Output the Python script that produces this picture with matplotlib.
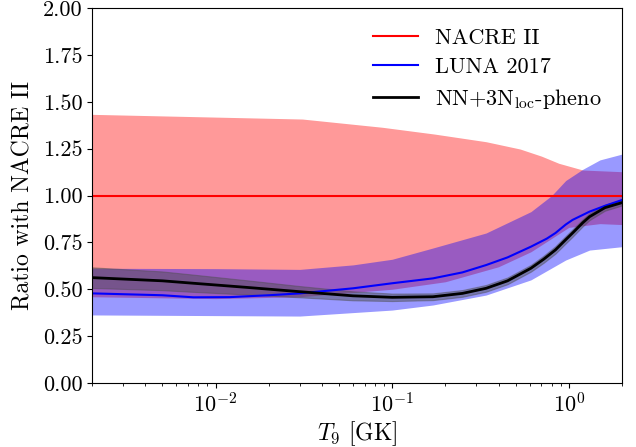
import numpy as np
import matplotlib
matplotlib.use("Agg")
import matplotlib.pyplot as plt
from matplotlib.ticker import FormatStrFormatter

plt.rcParams['font.family'] = 'serif'
plt.rcParams['font.serif'] = ['cmr10']
plt.rcParams['mathtext.fontset'] = 'cm'
plt.rcParams['axes.formatter.use_mathtext'] = True

# NACRE II band (ratio 1 by definition)
t_nacre_hi = [0.002, 0.031, 0.088, 0.173, 0.34, 0.53, 0.7, 0.877, 1.2, 2.0]
nacre_hi = [1.433, 1.408, 1.364, 1.328, 1.287, 1.248, 1.21, 1.172, 1.136, 1.127]
t_nacre_lo = [0.002, 0.01, 0.03, 0.1, 0.2, 0.4, 0.61, 1.0, 1.5, 2.0]
nacre_lo = [0.46, 0.45, 0.46, 0.50, 0.54, 0.62, 0.70, 0.83, 0.85, 0.845]

# LUNA 2017
t_luna = [0.002, 0.005, 0.0075, 0.012, 0.02, 0.03, 0.06, 0.1, 0.17, 0.25,
          0.34, 0.45, 0.61, 0.75, 0.84, 0.96, 1.05, 1.31, 1.6, 2.0]
luna = [0.478, 0.468, 0.457, 0.458, 0.468, 0.478, 0.505, 0.532, 0.558, 0.59,
        0.629, 0.67, 0.727, 0.77, 0.80, 0.845, 0.87, 0.914, 0.945, 0.976]
t_luna_hi = [0.002, 0.01, 0.03, 0.06, 0.1, 0.17, 0.34, 0.61, 0.8, 0.96, 1.2, 1.5, 2.0]
luna_hi = [0.612, 0.61, 0.606, 0.63, 0.66, 0.72, 0.80, 0.914, 1.00, 1.08, 1.14, 1.19, 1.221]
t_luna_lo = [0.002, 0.03, 0.1, 0.17, 0.34, 0.61, 0.96, 1.31, 2.0]
luna_lo = [0.363, 0.357, 0.389, 0.416, 0.469, 0.55, 0.656, 0.709, 0.727]

# NN+3N_loc-pheno
t_nn = [0.002, 0.005, 0.0075, 0.015, 0.03, 0.06, 0.1, 0.17, 0.25, 0.34,
        0.45, 0.61, 0.72, 0.84, 0.95, 1.05, 1.2, 1.31, 1.6, 2.0]
nn = [0.562, 0.545, 0.532, 0.51, 0.487, 0.465, 0.457, 0.46, 0.478, 0.505,
      0.545, 0.612, 0.66, 0.71, 0.76, 0.80, 0.855, 0.887, 0.935, 0.962]
nn_err = [0.055, 0.05, 0.046, 0.038, 0.03, 0.024, 0.02, 0.018, 0.018, 0.018,
          0.018, 0.018, 0.019, 0.02, 0.02, 0.02, 0.019, 0.018, 0.016, 0.015]

fig, ax = plt.subplots(figsize=(6.36, 4.47), dpi=100)
fig.subplots_adjust(left=0.1447, right=0.978, bottom=0.1432, top=0.982)

# red band: fill between upper and lower on a shared grid of their own points
t_red = sorted(set(t_nacre_hi) | set(t_nacre_lo))
ax.fill_between(t_red,
                np.interp(np.log(t_red), np.log(t_nacre_lo), nacre_lo),
                np.interp(np.log(t_red), np.log(t_nacre_hi), nacre_hi),
                color='red', alpha=0.4, lw=0)
t_blue = sorted(set(t_luna_hi) | set(t_luna_lo))
ax.fill_between(t_blue,
                np.interp(np.log(t_blue), np.log(t_luna_lo), luna_lo),
                np.interp(np.log(t_blue), np.log(t_luna_hi), luna_hi),
                color='blue', alpha=0.4, lw=0)
nn = np.array(nn)
nn_err = np.array(nn_err)
ax.fill_between(t_nn, nn - nn_err, nn + nn_err, color='0.3', alpha=0.45, lw=0.8)

ax.plot([0.002, 2.0], [1.0, 1.0], color='red', lw=1.5, label='NACRE II')
ax.plot(t_luna, luna, color='blue', lw=1.5, label='LUNA 2017')
ax.plot(t_nn, nn, color='black', lw=2, label=r'NN+3N$_{\rm loc}$-pheno')

ax.set_xscale('log')
ax.set_xlim(0.002, 2.0)
ax.set_ylim(0, 2.0)
ax.set_yticks(np.arange(0, 2.01, 0.25))
ax.yaxis.set_major_formatter(FormatStrFormatter('%.2f'))
ax.tick_params(labelsize=16)
ax.set_xlabel(r'$T_9$ [GK]', fontsize=17, labelpad=2)
ax.set_ylabel('Ratio with NACRE II', fontsize=17, labelpad=6)

ax.legend(loc='upper right', frameon=False, fontsize=16, handlelength=2.0,
          handletextpad=0.8, labelspacing=0.45, borderaxespad=0.5)

plt.savefig('out.png')
